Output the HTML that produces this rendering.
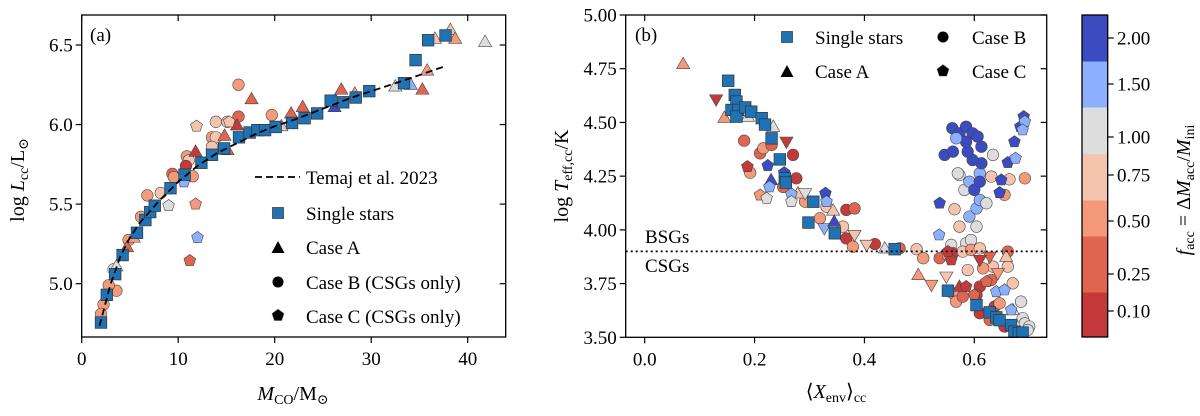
<!DOCTYPE html>
<html><head><meta charset="utf-8"><style>
html,body{margin:0;padding:0;background:#fff}
svg, svg text{font-family:"Liberation Serif","DejaVu Serif",serif}
</style></head><body>
<svg id="fig" width="1200" height="411" viewBox="0 0 1200 411" xmlns="http://www.w3.org/2000/svg" font-family="Liberation Serif, DejaVu Serif, serif"></svg>
<script>
// ---------- Panel (a) data ----------
const aSingleX=[2.0,2.6,3.47,4.24,5.73,6.6,7.1,7.57,9.2,10.66,12.4,13.5,14.76,16.3,17.4,18.2,19.0,20.1,21.8,23.1,24.4,25.8,27.1,28.4,29.8,33.4,34.6,35.9,37.7];
const aSingleY=[4.756,4.93,5.06,5.18,5.32,5.40,5.45,5.49,5.60,5.685,5.76,5.81,5.85,5.92,5.95,5.965,5.965,5.985,6.01,6.04,6.07,6.15,6.14,6.17,6.21,6.26,6.405,6.53,6.56];
const aCaseAX=[38.2,38.7,36.6,41.8,35.8,35.3,32.5,34.1,26.9,26.2,28.3,22.9,21.7,20.7,17.6,16.1,14.8,11.8,15.1,4.7,5.4,3.6];
const aCaseAY=[6.595,6.54,6.54,6.52,6.34,6.22,6.24,6.25,6.22,6.11,6.195,6.11,6.07,5.99,6.16,5.995,5.93,5.83,5.84,5.23,5.29,5.11];
const aCaseAF=[0.75,0.5,0.75,1.0,0.5,0.25,1.0,1.5,0.25,2.0,0.5,0.25,0.25,0.75,0.25,0.1,0.25,0.1,0.25,0.25,0.5,1.0];
const aCaseBX=[16.25,16.25,19.7,13.9,15.1,13.5,13.9,13.5,10.9,11.1,11.5,10.8,9.4,9.55,6.8,6.15,8.2,4.86,3.6,2.8,2.26,2.0,3.3];
const aCaseBY=[6.25,6.05,6.06,6.017,6.017,5.92,5.92,5.86,5.80,5.775,5.675,5.74,5.69,5.67,5.555,5.42,5.57,5.275,4.956,4.99,4.87,4.81,5.09];
const aCaseBF=[0.5,0.25,0.5,0.75,0.75,0.5,0.75,0.75,0.5,0.75,0.5,0.1,0.25,0.5,0.5,0.5,0.75,0.5,0.5,0.5,0.5,0.5,1.0];
const aCaseCX=[11.9,11.8,12.0,11.2,9.0,10.6,15.3];
const aCaseCY=[5.99,5.50,5.29,5.145,5.49,5.64,6.017];
const aCaseCF=[0.75,0.5,1.5,0.25,1.0,1.5,0.75];
const temajX=[1.84,3,4,5,6,8,10,12,14,16,18,20,22,25,28,31,34,37.8];
const temajY=[4.735,5.0,5.17,5.29,5.38,5.52,5.64,5.74,5.82,5.88,5.94,5.99,6.03,6.1,6.17,6.23,6.29,6.37];
const aXTicks=[0,10,20,30,40];
const aYTicks=[5.0,5.5,6.0,6.5];
// ---------- Panel (b) data ----------
const bSingleX=[0.152,0.164,0.167,0.158,0.170,0.167,0.183,0.194,0.213,0.219,0.231,0.246,0.255,0.257,0.307,0.298,0.346,0.455,0.552,0.604,0.628,0.640,0.646,0.667,0.673,0.681,0.688];
const bSingleY=[4.694,4.628,4.597,4.558,4.558,4.527,4.570,4.55,4.52,4.49,4.426,4.328,4.24,4.22,4.131,4.034,3.984,3.910,3.717,3.650,3.616,3.593,3.58,3.557,3.526,3.518,3.522];
const bCaseAX=[0.070,0.145,0.130,0.258,0.230,0.279,0.292,0.343,0.327,0.345,0.382,0.404,0.437,0.498,0.522,0.549,0.628,0.643,0.61,0.573,0.658,0.234,0.188,0.670];
const bCaseAY=[4.772,4.522,4.607,4.41,4.232,4.17,4.17,4.09,4.007,4.038,3.976,3.93,3.914,3.79,3.744,3.782,3.875,3.798,3.86,3.736,3.875,4.48,4.527,3.627];
const bCaseAF=[0.5,0.5,0.1,0.1,2.0,0.75,1.0,0.75,1.5,2.0,0.75,0.75,1.0,0.5,0.5,0.75,0.25,0.5,0.1,0.1,0.75,1.0,1.0,1.0];
const bCaseADown=[0,0,1,1,0,0,1,0,1,0,1,1,0,0,1,1,1,1,1,0,0,0,0,0];
const bCaseBX=[0.181,0.21,0.216,0.231,0.27,0.276,0.192,0.252,0.292,0.319,0.331,0.367,0.382,0.361,0.367,0.379,0.419,0.464,0.495,0.507,0.537,0.552,0.558,0.585,0.594,0.573,0.564,0.604,0.591,0.604,0.61,0.622,0.573,0.582,0.591,0.61,0.60,0.61,0.613,0.597,0.588,0.546,0.561,0.56,0.573,0.585,0.597,0.606,0.613,0.585,0.567,0.634,0.57,0.664,0.692,0.655,0.631,0.661,0.661,0.67,0.634,0.616,0.588,0.631,0.61,0.561,0.567,0.579,0.604,0.637,0.646,0.61,0.628,0.655,0.685,0.688,0.692,0.70,0.697,0.561,0.579,0.594,0.61];
const bCaseBY=[4.415,4.356,4.38,4.395,4.349,4.24,4.266,4.2,4.131,4.054,4.108,4.093,4.10,4.015,3.96,3.922,3.934,3.914,3.91,3.868,3.868,3.883,3.93,3.937,3.953,4.015,4.096,4.015,4.062,4.10,4.139,4.124,4.255,4.186,4.224,4.263,4.186,4.224,4.31,4.325,4.364,4.349,4.364,4.473,4.449,4.48,4.449,4.434,4.387,4.41,4.426,4.349,4.263,4.235,4.24,4.163,4.248,3.899,3.829,3.751,3.829,3.821,3.813,3.767,3.736,3.705,3.666,3.689,3.697,3.643,3.658,3.612,3.581,3.55,3.666,3.589,3.565,3.55,3.534,3.891,3.899,3.907,3.914];
const bCaseBF=[0.25,0.25,0.5,0.25,0.1,0.1,0.5,0.25,0.5,0.5,0.75,0.1,0.25,0.75,0.1,0.5,0.1,0.25,0.75,0.5,0.25,0.5,1.0,1.0,1.0,0.75,0.75,1.0,1.5,1.5,1.5,1.0,1.0,1.0,1.5,1.5,2.0,2.0,2.0,2.0,2.0,2.0,2.0,2.0,2.0,2.0,2.0,2.0,2.0,2.0,1.5,1.0,1.0,0.75,0.5,0.5,0.75,0.25,0.75,0.75,0.75,0.5,0.75,0.25,0.1,0.5,0.5,0.25,0.1,0.1,0.5,0.1,0.25,0.1,1.0,1.0,1.0,1.0,1.0,0.1,0.75,0.5,0.75];
const bCaseCX=[0.187,0.224,0.227,0.21,0.222,0.254,0.267,0.267,0.329,0.331,0.537,0.536,0.558,0.552,0.585,0.6,0.622,0.64,0.655,0.661,0.675,0.649,0.646,0.673,0.684,0.69,0.692,0.688,0.667];
const bCaseCY=[4.294,4.299,4.2,4.162,4.147,4.266,4.167,4.131,4.17,4.131,4.124,3.976,3.86,3.899,3.736,3.697,3.759,3.712,3.72,4.313,4.333,4.232,4.173,4.41,4.48,4.527,4.504,4.465,3.627];
const bCaseCF=[0.1,2.0,1.5,0.5,1.0,2.0,1.5,1.0,2.0,1.5,2.0,1.5,0.1,0.1,0.1,0.25,0.25,1.5,1.5,2.0,1.5,2.0,2.0,2.0,2.0,2.0,1.5,1.5,1.5];
const bXTicks=[0.0,0.2,0.4,0.6];
const bYTicks=[3.50,3.75,4.00,4.25,4.50,4.75,5.00];
const boundaryY=3.90;
// ---------- Colorbar ----------
const cbLevels=[0.1,0.25,0.5,0.75,1.0,1.5,2.0];
const cbColors=['#c43a3a','#e0654f','#f49a7b','#f4c4ad','#dddddd','#8db0fe','#3b4cc0'];
const cbTickLabels=['0.10','0.25','0.50','0.75','1.00','1.50','2.00'];

const NS='http://www.w3.org/2000/svg';
const FONT='Liberation Serif, DejaVu Serif, serif';
const svg=document.getElementById('fig');
function mk(tag,attrs,parent){const e=document.createElementNS(NS,tag);for(const k in attrs)e.setAttribute(k,attrs[k]);(parent||svg).appendChild(e);return e;}
function colorOf(f){let i=cbLevels.indexOf(f);if(i<0){i=0;while(i<cbLevels.length-1&&f>cbLevels[i])i++;}return cbColors[i];}
function lin(d0,d1,p0,p1){return v=>p0+(v-d0)/(d1-d0)*(p1-p0);}

function marker(g,shape,cx,cy,fill,down){
  let e;
  if(shape==='square'){e=mk('rect',{x:cx-5.8,y:cy-5.8,width:11.6,height:11.6,fill:fill,stroke:'#333','stroke-width':0.7},g);}
  else if(shape==='circle'){e=mk('circle',{cx:cx,cy:cy,r:5.8,fill:fill,stroke:'#444','stroke-width':0.6},g);}
  else if(shape==='tri'){const s=down?-1:1;e=mk('polygon',{points:`${cx},${cy-6.8*s} ${cx-6.6},${cy+4.7*s} ${cx+6.6},${cy+4.7*s}`,fill:fill,stroke:'#444','stroke-width':0.6},g);}
  else {let p=[];for(let k=0;k<5;k++){const a=-Math.PI/2+k*2*Math.PI/5;p.push((cx+6.2*Math.cos(a)).toFixed(1)+','+(cy+6.2*Math.sin(a)).toFixed(1));}e=mk('polygon',{points:p.join(' '),fill:fill,stroke:'#444','stroke-width':0.6},g);}
  return e;
}
function text(x,y,s,attrs,parent){const t=mk('text',Object.assign({x:x,y:y,'font-size':19,fill:'#000','font-family':FONT},attrs||{}),parent);t.textContent=s;return t;}

function axes(name,L,R,T,B,sx,sy,xt,yt,xfmt,yfmt){
  const g=mk('g',{});
  
  
  xt.forEach(v=>{const x=sx(v);
    mk('line',{x1:x,y1:B,x2:x,y2:B+6,stroke:'#000','stroke-width':1.2},g);
    mk('line',{x1:x,y1:T,x2:x,y2:T+6,stroke:'#000','stroke-width':1.2},g);
    const t=text(x,B+28,xfmt(v),{'text-anchor':'middle'},g);
    
    });
  yt.forEach(v=>{const y=sy(v);
    mk('line',{x1:L-6,y1:y,x2:L,y2:y,stroke:'#000','stroke-width':1.2},g);
    mk('line',{x1:R-6,y1:y,x2:R,y2:y,stroke:'#000','stroke-width':1.2},g);
    const t=text(L-9,y+6.5,yfmt(v),{'text-anchor':'end'},g);
    
    });
  return g;
}

// ---------- Panel (a) ----------
{
const L=81.7,R=505.7,T=15,B=337;
const sx=lin(0,40,81.7,467.7), sy=lin(5.0,6.5,283.7,45);
const cp=mk('clipPath',{id:'clipA'});mk('rect',{x:L,y:T,width:R-L,height:B-T},cp);
const g=mk('g',{'clip-path':'url(#clipA)'});


aCaseBX.forEach((x,i)=>{const m=marker(g,'circle',sx(x),sy(aCaseBY[i]),colorOf(aCaseBF[i]));
  
  });
aCaseAX.forEach((x,i)=>{const m=marker(g,'tri',sx(x),sy(aCaseAY[i]),colorOf(aCaseAF[i]));
  
  });
aCaseCX.forEach((x,i)=>{const m=marker(g,'pent',sx(x),sy(aCaseCY[i]),colorOf(aCaseCF[i]));
  
  });
aSingleX.forEach((x,i)=>{const m=marker(g,'square',sx(x),sy(aSingleY[i]),'#1f72b4');
  
  });
const line=mk('polyline',{points:temajX.map((x,i)=>sx(x).toFixed(1)+','+sy(temajY[i]).toFixed(1)).join(' '),fill:'none',stroke:'#000','stroke-width':1.8,'stroke-dasharray':'7,4'},g);


const fr=mk('rect',{x:L,y:T,width:R-L,height:B-T,fill:'none',stroke:'#000','stroke-width':1.3});


axes('panel-a',L,R,T,B,sx,sy,aXTicks,aYTicks,v=>String(v),v=>v.toFixed(1));
const pl=text(90,41,'(a)');


const lg=mk('g',{});


mk('line',{x1:255,y1:177,x2:300,y2:177,stroke:'#000','stroke-width':1.8,'stroke-dasharray':'7,4'},lg);
text(306,184,'Temaj et al. 2023',{},lg);
mk('rect',{x:272.5,y:207.5,width:11,height:11,fill:'#1f72b4',stroke:'#333','stroke-width':0.7},lg);
text(306,220,'Single stars',{},lg);
mk('polygon',{points:'278,241 271.5,253 284.5,253',fill:'#000'},lg);
text(306,254,'Case A',{},lg);
mk('circle',{cx:278,cy:282,r:5.5,fill:'#000'},lg);
text(306,289,'Case B (CSGs only)',{},lg);
marker(lg,'pent',278,315.5,'#000');
text(306,323,'Case C (CSGs only)',{},lg);
const yt=mk('text',{x:0,y:0,'font-size':20,'font-family':FONT,transform:'translate(24,180) rotate(-90)','text-anchor':'middle'});


yt.innerHTML='log <tspan font-style="italic">L</tspan><tspan font-size="14" dy="4">cc</tspan><tspan dy="-4">/L</tspan><tspan font-size="14" dy="4">⊙</tspan>';
const xt=mk('text',{x:293,y:400,'font-size':20,'font-family':FONT,'text-anchor':'middle'});


xt.innerHTML='<tspan font-style="italic">M</tspan><tspan font-size="14" dy="4">CO</tspan><tspan dy="-4">/M</tspan><tspan font-size="14" dy="4">⊙</tspan>';
}

// ---------- Panel (b) ----------
{
const L=625.7,R=1046.7,T=15,B=337.3;
const sx=lin(0,0.6,644.7,974.3), sy=lin(3.5,5.0,337.3,15);
const cp=mk('clipPath',{id:'clipB'});mk('rect',{x:L,y:T,width:R-L,height:B-T},cp);
const g=mk('g',{'clip-path':'url(#clipB)'});


bCaseBX.forEach((x,i)=>{const m=marker(g,'circle',sx(x),sy(bCaseBY[i]),colorOf(bCaseBF[i]));
  
  });
bCaseAX.forEach((x,i)=>{const m=marker(g,'tri',sx(x),sy(bCaseAY[i]),colorOf(bCaseAF[i]),bCaseADown[i]===1);
  
  });
bCaseCX.forEach((x,i)=>{const m=marker(g,'pent',sx(x),sy(bCaseCY[i]),colorOf(bCaseCF[i]));
  
  });
bSingleX.forEach((x,i)=>{const m=marker(g,'square',sx(x),sy(bSingleY[i]),'#1f72b4');
  
  });
const dl=mk('line',{x1:L,y1:sy(boundaryY),x2:R,y2:sy(boundaryY),stroke:'#000','stroke-width':1.8,'stroke-dasharray':'2,3'});


const t1=text(645,243,'BSGs');


const t2=text(645,272,'CSGs');


const fr=mk('rect',{x:L,y:T,width:R-L,height:B-T,fill:'none',stroke:'#000','stroke-width':1.3});


axes('panel-b',L,R,T,B,sx,sy,bXTicks,bYTicks,v=>v.toFixed(1),v=>v.toFixed(2));
const pl=text(635,41,'(b)');


const lg=mk('g',{});


mk('rect',{x:781.5,y:31.5,width:11,height:11,fill:'#1f72b4',stroke:'#333','stroke-width':0.7},lg);
text(815,44,'Single stars',{},lg);
mk('polygon',{points:'787,65 780.5,77 793.5,77',fill:'#000'},lg);
text(815,78,'Case A',{},lg);
mk('circle',{cx:943,cy:37,r:5.5,fill:'#000'},lg);
text(972,44,'Case B',{},lg);
marker(lg,'pent',943,71,'#000');
text(972,78,'Case C',{},lg);
const yt=mk('text',{x:0,y:0,'font-size':20,'font-family':FONT,transform:'translate(568,176) rotate(-90)','text-anchor':'middle'});


yt.innerHTML='log <tspan font-style="italic">T</tspan><tspan font-size="14" dy="4">eff,cc</tspan><tspan dy="-4">/K</tspan>';
const xt=mk('text',{x:836,y:398,'font-size':20,'font-family':FONT,'text-anchor':'middle'});


xt.innerHTML='⟨<tspan font-style="italic">X</tspan><tspan font-size="14" dy="4">env</tspan><tspan dy="-4">⟩</tspan><tspan font-size="14" dy="4">cc</tspan>';
}

// ---------- Colorbar ----------
{
const cbEdges=[337,292,236,200,153.7,107,61,15];
const cbTickY=[311,274,221,175,137,84,38];
const g=mk('g',{});


cbColors.forEach((c,i)=>{const r=mk('rect',{x:1082,y:cbEdges[i+1],width:25.7,height:cbEdges[i]-cbEdges[i+1]+0.5,fill:c},g);
  
  });
mk('rect',{x:1082,y:15,width:25.7,height:322,fill:'none',stroke:'#000','stroke-width':1.3},g);
cbTickLabels.forEach((s,i)=>{const y=cbTickY[i];
  mk('line',{x1:1107.7,y1:y,x2:1113.7,y2:y,stroke:'#000','stroke-width':1.2},g);
  const t=text(1117,y+6.5,s,{},g);
  
  });
const ct=mk('text',{x:0,y:0,'font-size':20,'font-family':FONT,transform:'translate(1190,190) rotate(-90)','text-anchor':'middle'});


ct.innerHTML='<tspan font-style="italic">f</tspan><tspan font-size="14" dy="4">acc</tspan><tspan dy="-4"> = Δ</tspan><tspan font-style="italic">M</tspan><tspan font-size="14" dy="4">acc</tspan><tspan dy="-4">/</tspan><tspan font-style="italic">M</tspan><tspan font-size="14" dy="4">ini</tspan>';
}
</script>
</body></html>
